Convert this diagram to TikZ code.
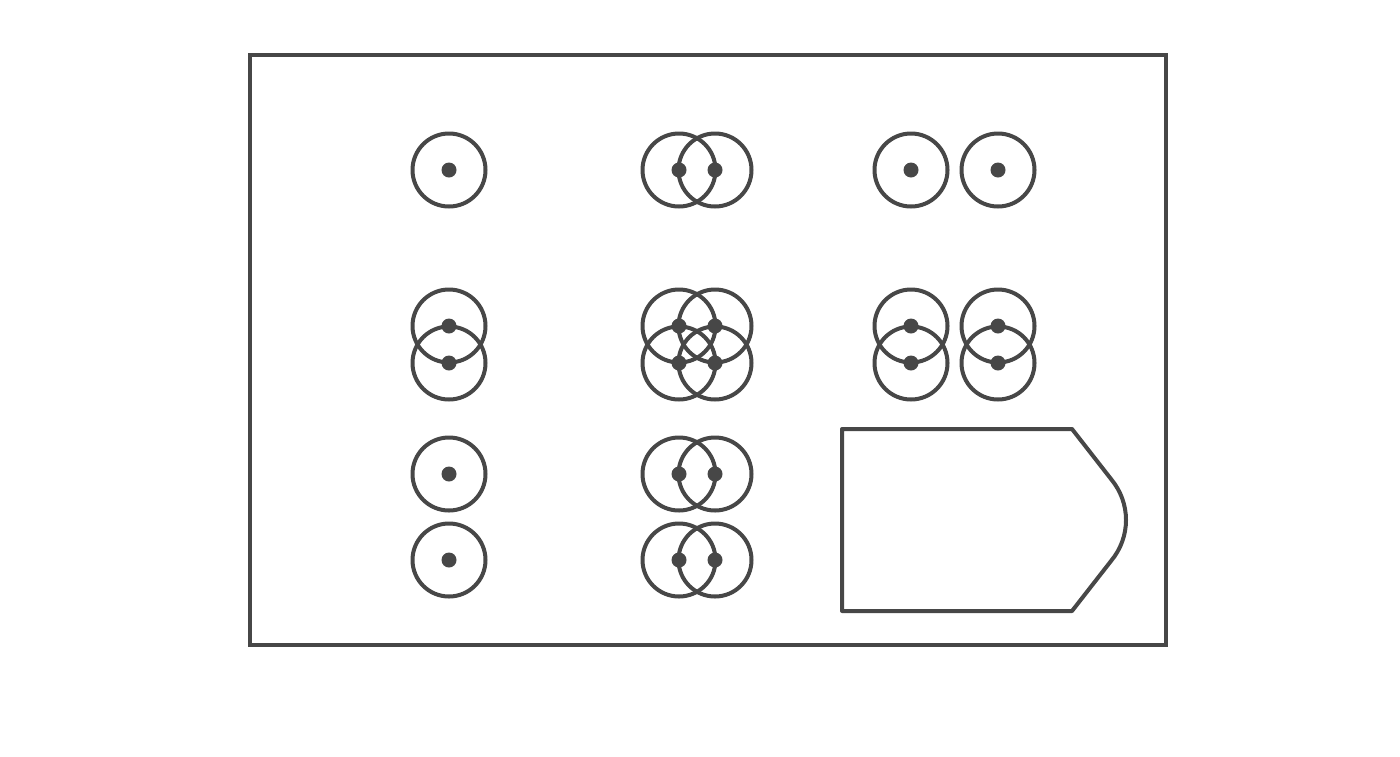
\documentclass[tikz,border=0pt]{standalone}
\begin{document}
\begin{tikzpicture}[x=1pt,y=-1pt,
  ink/.style={draw=black!72,line width=4pt},
  ring/.style={ink},
  pin/.style={fill=black!72}]
\useasboundingbox (0,0) rectangle (1400,756);
\draw[ink,line width=4.4pt] (250,55) rectangle (1166,645);
\foreach \p in {(449,170),(679,170),(715,170),(911,170),(998,170),
  (449,326),(449,363),(679,326),(715,326),(679,363),(715,363),
  (911,326),(911,363),(998,326),(998,363),
  (449,474),(449,560),(679,474),(715,474),(679,560),(715,560)}{
  \draw[ring] \p circle (36.5);
  \fill[pin] \p circle (7.5);
}
\draw[ink,line join=round] (842,429) -- (1072,429) -- (1111,479)
  .. controls (1131,503) and (1131,537) .. (1111,561)
  -- (1072,611) -- (842,611) -- cycle;
\end{tikzpicture}
\end{document}
